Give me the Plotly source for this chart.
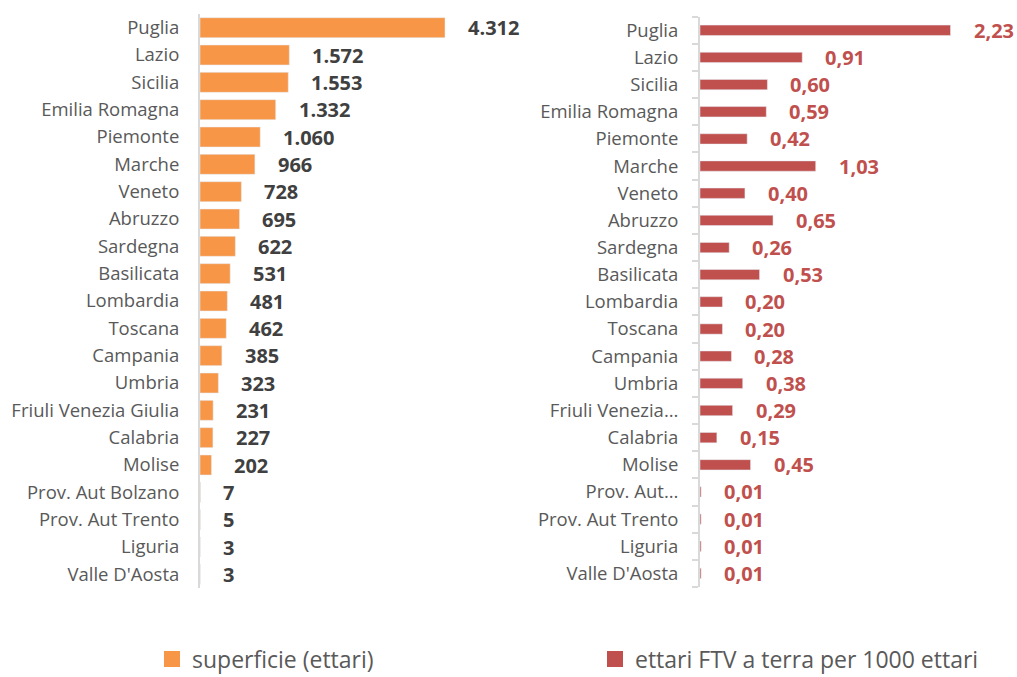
import plotly.graph_objects as go

# ---------------- data ----------------
regions = ["Puglia", "Lazio", "Sicilia", "Emilia Romagna", "Piemonte", "Marche",
           "Veneto", "Abruzzo", "Sardegna", "Basilicata", "Lombardia", "Toscana",
           "Campania", "Umbria", "Friuli Venezia Giulia", "Calabria", "Molise",
           "Prov. Aut Bolzano", "Prov. Aut Trento", "Liguria", "Valle D'Aosta"]
regions_right_labels = ["Puglia", "Lazio", "Sicilia", "Emilia Romagna", "Piemonte", "Marche",
                        "Veneto", "Abruzzo", "Sardegna", "Basilicata", "Lombardia", "Toscana",
                        "Campania", "Umbria", "Friuli Venezia…", "Calabria", "Molise",
                        "Prov. Aut…", "Prov. Aut Trento", "Liguria", "Valle D'Aosta"]
superficie = [4312, 1572, 1553, 1332, 1060, 966, 728, 695, 622, 531, 481, 462,
              385, 323, 231, 227, 202, 7, 5, 3, 3]
ettari_per_1000 = [2.23, 0.91, 0.60, 0.59, 0.42, 1.03, 0.40, 0.65, 0.26, 0.53, 0.20, 0.20,
                   0.28, 0.38, 0.29, 0.15, 0.45, 0.01, 0.01, 0.01, 0.01]
series_names = ["superficie (ettari)", "ettari FTV a terra per 1000 ettari"]

ORANGE = "#F79646"
RED = "#C0504D"
GREY_TXT = "#595959"
DARK_TXT = "#404040"
AXIS_GREY = "#D9D9D9"
FONT = "Open Sans"

W, H = 1017, 677

def px(x):
    """page x pixel -> paper fraction"""
    return x / W

def py(y):
    """page y pixel -> paper fraction"""
    return 1 - y / H

def fmt_it_int(v):
    return f"{v:,}".replace(",", ".")

def fmt_it_dec(v):
    return f"{v:.2f}".replace(".", ",")

fig = go.Figure()

fig.add_trace(go.Bar(
    y=regions, x=superficie, orientation="h", marker=dict(color=ORANGE),
    width=0.73, xaxis="x", yaxis="y", showlegend=False, hoverinfo="x+y"))
fig.add_trace(go.Bar(
    y=regions, x=ettari_per_1000, orientation="h", marker=dict(color=RED),
    width=0.38, xaxis="x2", yaxis="y2", showlegend=False, hoverinfo="x+y"))

# legend entries (square markers), one legend per series
fig.add_trace(go.Scatter(x=[None], y=[None], mode="markers", name=series_names[0],
                         marker=dict(symbol="square", size=16, color=ORANGE),
                         xaxis="x", yaxis="y", legend="legend"))
fig.add_trace(go.Scatter(x=[None], y=[None], mode="markers", name=series_names[1],
                         marker=dict(symbol="square", size=16, color=RED),
                         xaxis="x2", yaxis="y2", legend="legend2"))

annotations = []
for r, v in zip(regions, superficie):
    annotations.append(dict(x=v, y=r, xref="x", yref="y", text=fmt_it_int(v),
                            showarrow=False, xanchor="left", xshift=21,
                            font=dict(family=FONT, size=20, color=DARK_TXT, weight="bold")))
for r, v in zip(regions, ettari_per_1000):
    annotations.append(dict(x=v, y=r, xref="x2", yref="y2", text=fmt_it_dec(v),
                            showarrow=False, xanchor="left", xshift=21,
                            font=dict(family=FONT, size=20, color=RED, weight="bold")))

# axis geometry (page pixels)
left_x0 = 200
left_scale = 245.0 / 4312
left_max = 5800
right_x0 = 700
right_scale = 250.5 / 2.23
right_max = 2.75

legend_common = dict(orientation="h", xanchor="left", yanchor="middle",
                     font=dict(family=FONT, size=23, color=GREY_TXT),
                     itemclick=False, itemdoubleclick=False, bgcolor="rgba(0,0,0,0)")

fig.update_layout(
    width=W, height=H,
    margin=dict(l=0, r=0, t=0, b=0, autoexpand=False),
    paper_bgcolor="white", plot_bgcolor="white",
    font=dict(family=FONT, color=GREY_TXT),
    annotations=annotations,
    showlegend=True,
    legend=dict(x=px(152), y=py(659), **legend_common),
    legend2=dict(x=px(595), y=py(659), **legend_common),
    xaxis=dict(domain=[px(left_x0), px(left_x0 + left_max * left_scale)],
               range=[0, left_max], visible=False, fixedrange=True),
    yaxis=dict(domain=[py(588), py(14)], anchor="x",
               categoryorder="array", categoryarray=regions,
               range=[20.5, -0.5], showline=True, linecolor=AXIS_GREY, linewidth=2,
               ticks="", showgrid=False, ticklabelstandoff=15,
               tickfont=dict(family=FONT, size=18.5, color=GREY_TXT)),
    xaxis2=dict(domain=[px(right_x0), min(1.0, px(right_x0 + right_max * right_scale))],
                range=[0, right_max], visible=False, fixedrange=True, anchor="y2"),
    yaxis2=dict(domain=[py(587), py(16.7)], anchor="x2",
                categoryorder="array", categoryarray=regions,
                tickmode="array", tickvals=regions, ticktext=regions_right_labels,
                range=[20.5, -0.5], showline=True, linecolor=AXIS_GREY, linewidth=2,
                ticks="outside", tickson="boundaries", ticklen=6, tickcolor=AXIS_GREY,
                tickwidth=2, showgrid=False, ticklabelstandoff=16,
                tickfont=dict(family=FONT, size=18.5, color=GREY_TXT)),
)

# remove the default 8px page margin so the figure fills the 1017x677 window exactly
fig.write_html("out.html",
               config={"displayModeBar": False},
               post_script="document.body.style.margin='0';document.body.style.overflow='hidden';")
